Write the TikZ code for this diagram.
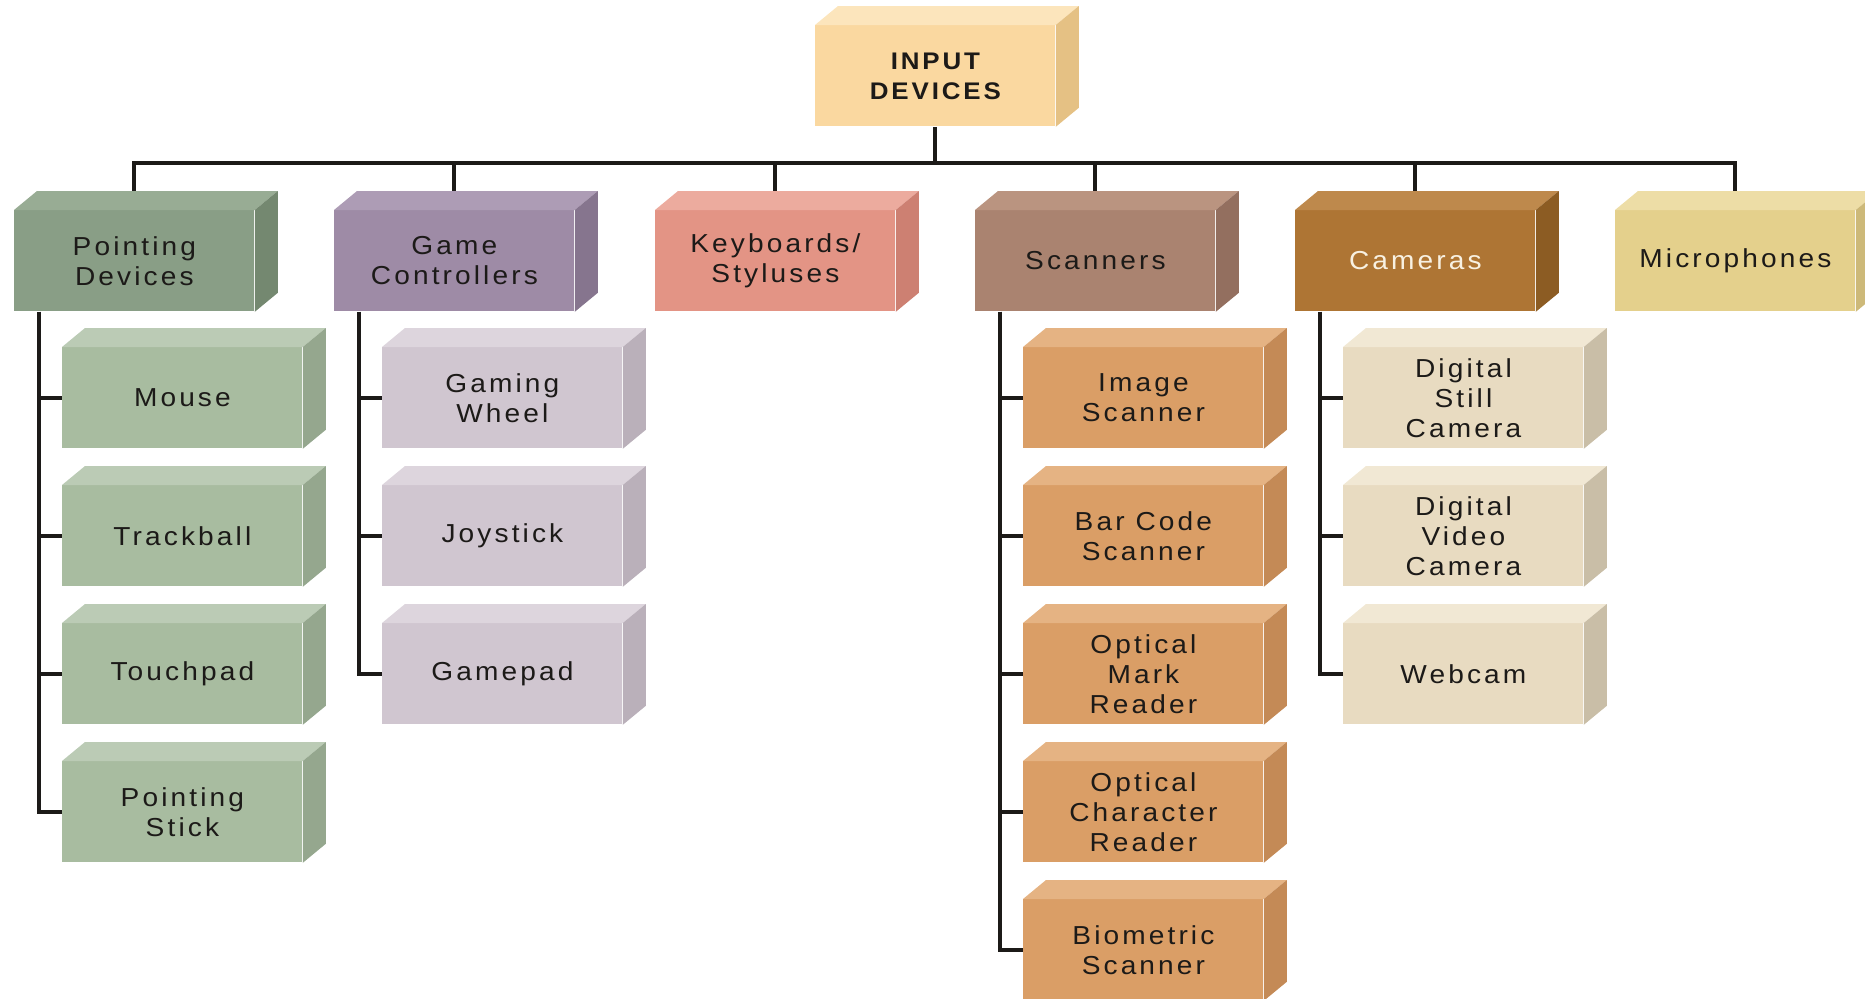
\documentclass[tikz,border=0pt]{standalone}
\usepackage{fontspec}
\setmainfont{Liberation Sans}[LetterSpace=12, FakeStretch=1.08]
\usetikzlibrary{backgrounds,calc}

% palettes: F = front face, T = top face, S = side face
\definecolor{rootF}{RGB}{250,216,160}\definecolor{rootT}{RGB}{252,229,188}\definecolor{rootS}{RGB}{229,193,132}
\definecolor{pdF}{RGB}{137,158,134}\definecolor{pdT}{RGB}{152,172,148}\definecolor{pdS}{RGB}{116,136,112}
\definecolor{pdcF}{RGB}{168,188,160}\definecolor{pdcT}{RGB}{187,203,181}\definecolor{pdcS}{RGB}{149,167,142}
\definecolor{gcF}{RGB}{158,139,166}\definecolor{gcT}{RGB}{173,156,181}\definecolor{gcS}{RGB}{134,117,142}
\definecolor{gccF}{RGB}{208,198,208}\definecolor{gccT}{RGB}{221,213,221}\definecolor{gccS}{RGB}{186,176,186}
\definecolor{kbF}{RGB}{227,148,133}\definecolor{kbT}{RGB}{236,171,158}\definecolor{kbS}{RGB}{205,128,114}
\definecolor{scF}{RGB}{170,131,112}\definecolor{scT}{RGB}{186,148,128}\definecolor{scS}{RGB}{147,111,95}
\definecolor{sccF}{RGB}{218,158,102}\definecolor{sccT}{RGB}{229,179,131}\definecolor{sccS}{RGB}{196,138,86}
\definecolor{camF}{RGB}{174,117,52}\definecolor{camT}{RGB}{190,137,76}\definecolor{camS}{RGB}{140,92,35}
\definecolor{camcF}{RGB}{232,219,193}\definecolor{camcT}{RGB}{241,232,212}\definecolor{camcS}{RGB}{201,190,167}
\definecolor{micF}{RGB}{228,208,140}\definecolor{micT}{RGB}{237,221,166}\definecolor{micS}{RGB}{205,185,121}
\definecolor{ink}{RGB}{28,26,24}
\definecolor{paleink}{RGB}{248,241,226}

\tikzset{
  cube/.style={minimum width=120pt, minimum height=50.5pt, inner sep=0pt,
    anchor=north west, align=center, text=ink,
    font=\fontsize{13}{15}\selectfont},
  link/.style={line width=2pt, draw=ink}
}

% a box with a lighter top face and a darker right face
\newcommand\blockbox[6]{%
  \node[cube, fill=#4F, text=#5] (#1) at (#2,-#3) {#6};
  \fill[#4T] (#1.north west) -- ++(23,19) -- ($(#1.north east)+(23,19)$) -- (#1.north east) -- cycle;
  \fill[#4S] (#1.north east) -- ++(23,19) -- ($(#1.south east)+(23,19)$) -- (#1.south east) -- cycle;
}

\begin{document}
\begin{tikzpicture}[x=0.5pt,y=0.5pt]
\useasboundingbox (0,0) rectangle (1865,-998);
\clip (0,0) rectangle (1865,-998);

% root
\blockbox{root}{815}{25}{root}{ink}{\bfseries\fontsize{12}{15.5}\selectfont INPUT\\\bfseries\fontsize{12}{15.5}\selectfont DEVICES}

% categories
\blockbox{pd}{14}{210}{pd}{ink}{Pointing\\Devices}
\blockbox{gc}{334}{210}{gc}{ink}{Game\\Controllers}
\blockbox{kb}{655}{210}{kb}{ink}{Keyboards/\\Styluses}
\blockbox{sc}{975}{210}{sc}{ink}{Scanners}
\blockbox{cam}{1295}{210}{cam}{paleink}{Cameras}
\blockbox{mic}{1615}{210}{mic}{ink}{Microphones}

% pointing devices
\blockbox{mouse}{62}{347}{pdc}{ink}{Mouse}
\blockbox{trackball}{62}{485}{pdc}{ink}{Trackball}
\blockbox{touchpad}{62}{623}{pdc}{ink}{Touchpad}
\blockbox{pstick}{62}{761}{pdc}{ink}{Pointing\\Stick}

% game controllers
\blockbox{wheel}{382}{347}{gcc}{ink}{Gaming\\Wheel}
\blockbox{joystick}{382}{485}{gcc}{ink}{Joystick}
\blockbox{gamepad}{382}{623}{gcc}{ink}{Gamepad}

% scanners
\blockbox{imgsc}{1023}{347}{scc}{ink}{Image\\Scanner}
\blockbox{barsc}{1023}{485}{scc}{ink}{Bar Code\\Scanner}
\blockbox{omr}{1023}{623}{scc}{ink}{Optical\\Mark\\Reader}
\blockbox{ocr}{1023}{761}{scc}{ink}{Optical\\Character\\Reader}
\blockbox{bio}{1023}{899}{scc}{ink}{Biometric\\Scanner}

% cameras
\blockbox{still}{1343}{347}{camc}{ink}{Digital\\Still\\Camera}
\blockbox{video}{1343}{485}{camc}{ink}{Digital\\Video\\Camera}
\blockbox{webcam}{1343}{623}{camc}{ink}{Webcam}

\begin{pgfonlayer}{background}
  \draw[link] (root.south) -- ++(0,-36) coordinate (bus);
  \foreach \c in {pd,gc,kb,sc,cam,mic}
    \draw[link] (bus) -| (\c.north);
  \foreach \p/\kids in {pd/{mouse,trackball,touchpad,pstick},
                        gc/{wheel,joystick,gamepad},
                        sc/{imgsc,barsc,omr,ocr,bio},
                        cam/{still,video,webcam}}
    \foreach \k in \kids
      \draw[link] ($(\p.south west)+(25,0)$) |- (\k.west);
\end{pgfonlayer}
\end{tikzpicture}
\end{document}
